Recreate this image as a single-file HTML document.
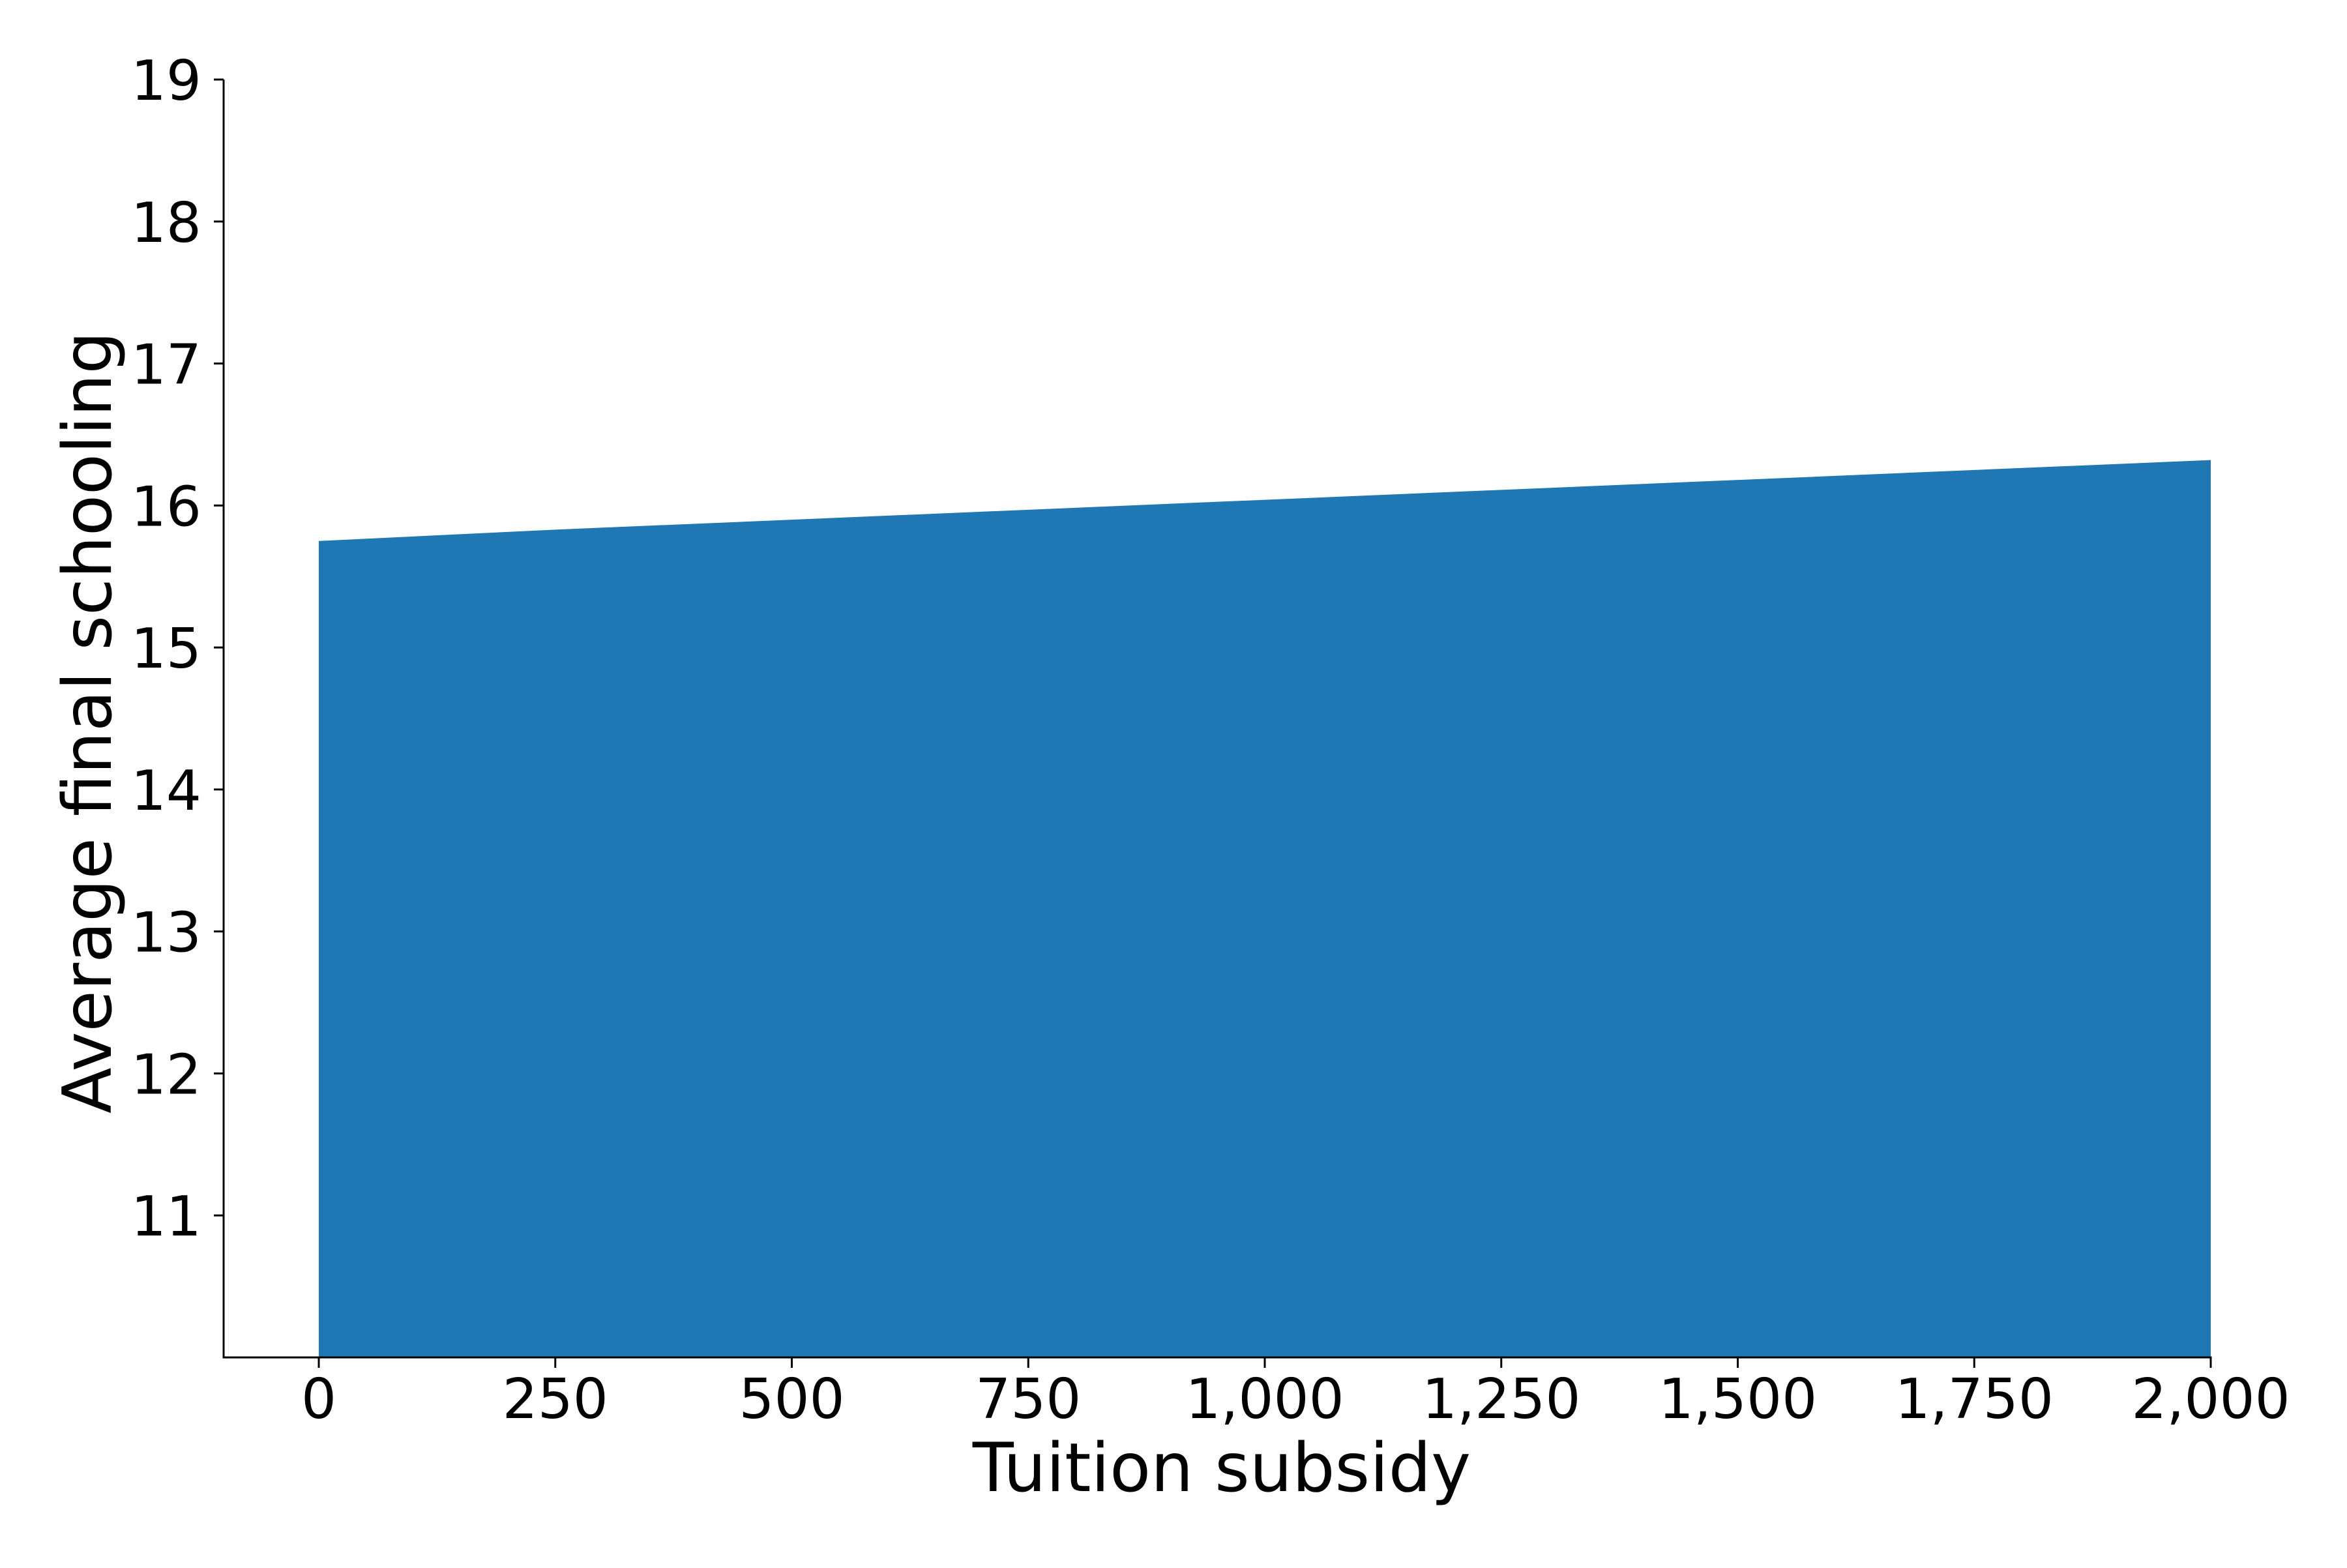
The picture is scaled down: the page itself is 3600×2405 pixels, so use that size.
<!DOCTYPE html>
<html><head><meta charset="utf-8"><style>
html,body{margin:0;padding:0;background:#fff;}
svg text{font-family:"DejaVu Sans","Liberation Sans",sans-serif;fill:#000;}
</style></head><body>
<svg id="chart" width="3600" height="2400" viewBox="0 0 3600 2400" xmlns="http://www.w3.org/2000/svg">
<g id="plot"></g>
<g id="axes"></g>
<text x="1874" y="2287" font-size="103" text-anchor="middle">Tuition subsidy</text>
<text transform="translate(170,1108) rotate(-90)" font-size="103" text-anchor="middle">Average final schooling</text>
</svg>
<script>
const subsidies = [0, 250, 500, 750, 1000, 1250, 1500, 1750, 2000];
const schooling = [15.75, 15.83, 15.90, 15.97, 16.04, 16.11, 16.18, 16.25, 16.32];
const xTicks = [0, 250, 500, 750, 1000, 1250, 1500, 1750, 2000];
const xTickLabels = ["0", "250", "500", "750", "1,000", "1,250", "1,500", "1,750", "2,000"];
const yTicks = [11, 12, 13, 14, 15, 16, 17, 18, 19];
const yTickLabels = ["11", "12", "13", "14", "15", "16", "17", "18", "19"];
const X0 = 489, X1 = 3391, Y0 = 2082, Y1 = 122;
const yMin = 10, yMax = 19;
const ns = "http://www.w3.org/2000/svg";
function sx(v){ return X0 + (v - 0) / 2000 * (X1 - X0); }
function sy(v){ return Y0 - (v - yMin) / (yMax - yMin) * (Y0 - Y1); }
const plot = document.getElementById('plot');
const axes = document.getElementById('axes');
let d = 'M' + sx(subsidies[0]) + ',' + sy(yMin);
subsidies.forEach((s, i) => { d += ' L' + sx(s) + ',' + sy(schooling[i]); });
d += ' L' + sx(subsidies[subsidies.length - 1]) + ',' + sy(yMin) + ' Z';
const area = document.createElementNS(ns, 'path');
area.setAttribute('d', d);
area.setAttribute('fill', '#1f77b4');


plot.appendChild(area);
function line(x1, y1, x2, y2, name){
  const l = document.createElementNS(ns, 'line');
  l.setAttribute('x1', x1); l.setAttribute('y1', y1); l.setAttribute('x2', x2); l.setAttribute('y2', y2);
  l.setAttribute('stroke', '#000'); l.setAttribute('stroke-width', '3');
  
  
  axes.appendChild(l);
}
line(343, Y0 + 1.5, 343, Y1, 'y-axis-spine');
line(341.5, Y0, X1 + 1.5, Y0, 'x-axis-spine');
xTicks.forEach((t, i) => {
  line(sx(t), Y0, sx(t), Y0 + 16, 'x-tick');
  const tx = document.createElementNS(ns, 'text');
  tx.setAttribute('x', sx(t)); tx.setAttribute('y', Y0 + 93);
  tx.setAttribute('font-size', '85'); tx.setAttribute('text-anchor', 'middle');
  tx.textContent = xTickLabels[i];
  
  
  axes.appendChild(tx);
});
yTicks.forEach((t, i) => {
  line(343, sy(t), 328, sy(t), 'y-tick');
  const tx = document.createElementNS(ns, 'text');
  tx.setAttribute('x', 309); tx.setAttribute('y', sy(t) + 31);
  tx.setAttribute('font-size', '85'); tx.setAttribute('text-anchor', 'end');
  tx.textContent = yTickLabels[i];
  
  
  axes.appendChild(tx);
});
</script>
</body></html>
